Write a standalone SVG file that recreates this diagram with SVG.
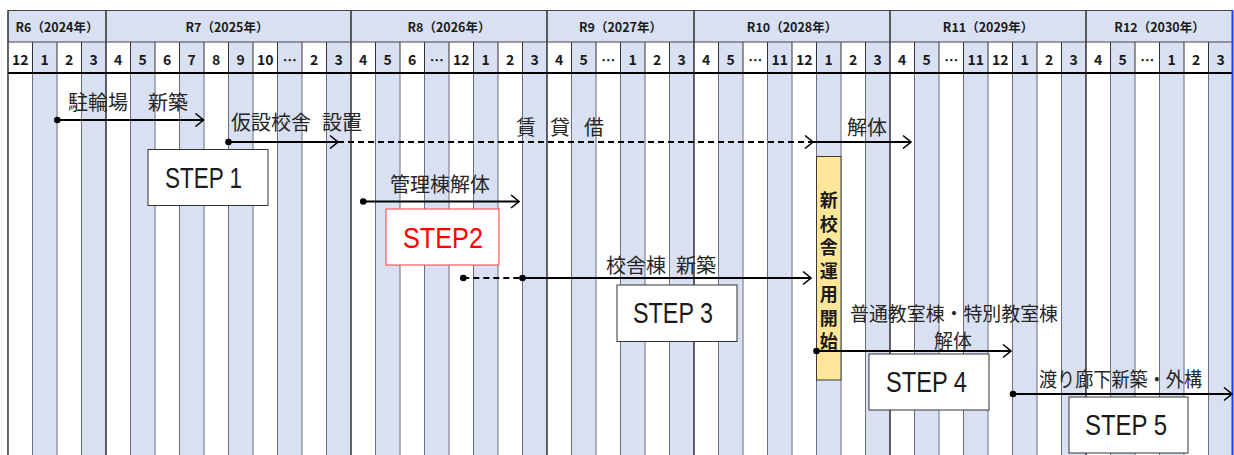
<svg xmlns="http://www.w3.org/2000/svg" width="1234" height="455" viewBox="0 0 1234 455">
<style>
.yr{font-family:"Noto Sans CJK JP","Noto Sans",sans-serif;font-weight:bold;font-size:12.5px;fill:#1a1a1a;text-anchor:middle}
.mo{font-family:"Noto Sans CJK JP","Noto Sans",sans-serif;font-weight:bold;font-size:14px;fill:#1a1a1a;text-anchor:middle}
.lbl{font-family:"Noto Sans CJK JP",sans-serif;font-size:20px;fill:#262626}
.step{font-family:"Liberation Sans",Arial,sans-serif;font-size:29px;fill:#1a1a1a}
.box{fill:#ffffff;stroke:#333333;stroke-width:1}
.bar{font-family:"Noto Sans CJK JP",sans-serif;font-weight:bold;font-size:18px;fill:#1a1a1a;text-anchor:middle}
.ln{fill:none;stroke:#000;stroke-width:1.8}
.dash{stroke-dasharray:6 4}
</style>
<defs>
<pattern id="cols" patternUnits="userSpaceOnUse" x="8" y="0" width="49" height="455">
<rect x="24.5" y="0" width="24.5" height="455" fill="#D9E0F2"/>
</pattern>
<marker id="arr" markerUnits="userSpaceOnUse" markerWidth="12" markerHeight="16" refX="9" refY="7" orient="auto" overflow="visible">
<path d="M1,0.5 L9,7 L1,13.5" fill="none" stroke="#000" stroke-width="1.6"/>
</marker>
<marker id="dot" markerUnits="userSpaceOnUse" markerWidth="8" markerHeight="8" refX="4" refY="4" overflow="visible">
<circle cx="4" cy="4" r="3.3" fill="#000"/>
</marker>
</defs>
<rect width="1234" height="455" fill="#ffffff"/>
<g id="grid">
<rect x="8" y="10" width="1225" height="32" fill="#D9E0F2"/>
<rect x="8" y="42" width="1225" height="413" fill="url(#cols)"/>
<path d="M32.5,73V455M57,73V455M81.5,73V455M130.5,73V455M155,73V455M179.5,73V455M204,73V455M228.5,73V455M253,73V455M277.5,73V455M302,73V455M326.5,73V455M375.5,73V455M400,73V455M424.5,73V455M449,73V455M473.5,73V455M498,73V455M522.5,73V455M571.5,73V455M596,73V455M620.5,73V455M645,73V455M669.5,73V455M718.5,73V455M743,73V455M767.5,73V455M792,73V455M816.5,73V455M841,73V455M865.5,73V455M914.5,73V455M939,73V455M963.5,73V455M988,73V455M1012.5,73V455M1037,73V455M1061.5,73V455M1110.5,73V455M1135,73V455M1159.5,73V455M1184,73V455M1208.5,73V455" stroke="#6a6f80" stroke-width="1" fill="none"/>
<path d="M32.5,42V73M57,42V73M81.5,42V73M130.5,42V73M155,42V73M179.5,42V73M204,42V73M228.5,42V73M253,42V73M277.5,42V73M302,42V73M326.5,42V73M375.5,42V73M400,42V73M424.5,42V73M449,42V73M473.5,42V73M498,42V73M522.5,42V73M571.5,42V73M596,42V73M620.5,42V73M645,42V73M669.5,42V73M718.5,42V73M743,42V73M767.5,42V73M792,42V73M816.5,42V73M841,42V73M865.5,42V73M914.5,42V73M939,42V73M963.5,42V73M988,42V73M1012.5,42V73M1037,42V73M1061.5,42V73M1110.5,42V73M1135,42V73M1159.5,42V73M1184,42V73M1208.5,42V73" stroke="#333" stroke-width="1" fill="none"/>
<path d="M8,10V455M106,10V455M351,10V455M547,10V455M694,10V455M890,10V455M1086,10V455" stroke="#000" stroke-width="1.2" fill="none"/>
<path d="M8,10.5H1233M8,42H1233" stroke="#444" stroke-width="1" fill="none"/>
<path d="M8,73H1233" stroke="#000" stroke-width="2.2" fill="none"/>
<path d="M1232.5,10V455" stroke="#1a3cff" stroke-width="2" fill="none"/>
<text class="yr" x="57" y="32">R6（2024年）</text>
<text class="yr" x="227" y="32">R7（2025年）</text>
<text class="yr" x="449" y="32">R8（2026年）</text>
<text class="yr" x="620.5" y="32">R9（2027年）</text>
<text class="yr" x="792" y="32">R10（2028年）</text>
<text class="yr" x="988" y="32">R11（2029年）</text>
<text class="yr" x="1159.5" y="32">R12（2030年）</text>
<g class="mo">
<text x="20.25" y="65">12</text><text x="44.75" y="65">1</text><text x="69.25" y="65">2</text><text x="93.75" y="65">3</text>
<text x="118.25" y="65">4</text><text x="142.75" y="65">5</text><text x="167.25" y="65">6</text><text x="191.75" y="65">7</text><text x="216.25" y="65">8</text><text x="240.75" y="65">9</text><text x="265.25" y="65">10</text><text x="289.75" y="65">…</text><text x="314.25" y="65">2</text><text x="338.75" y="65">3</text>
<text x="363.25" y="65">4</text><text x="387.75" y="65">5</text><text x="412.25" y="65">6</text><text x="436.75" y="65">…</text><text x="461.25" y="65">12</text><text x="485.75" y="65">1</text><text x="510.25" y="65">2</text><text x="534.75" y="65">3</text>
<text x="559.25" y="65">4</text><text x="583.75" y="65">5</text><text x="608.25" y="65">…</text><text x="632.75" y="65">1</text><text x="657.25" y="65">2</text><text x="681.75" y="65">3</text>
<text x="706.25" y="65">4</text><text x="730.75" y="65">5</text><text x="755.25" y="65">…</text><text x="779.75" y="65">11</text><text x="804.25" y="65">12</text><text x="828.75" y="65">1</text><text x="853.25" y="65">2</text><text x="877.75" y="65">3</text>
<text x="902.25" y="65">4</text><text x="926.75" y="65">5</text><text x="951.25" y="65">…</text><text x="975.75" y="65">11</text><text x="1000.25" y="65">12</text><text x="1024.75" y="65">1</text><text x="1049.25" y="65">2</text><text x="1073.75" y="65">3</text>
<text x="1098.25" y="65">4</text><text x="1122.75" y="65">5</text><text x="1147.25" y="65">…</text><text x="1171.75" y="65">1</text><text x="1196.25" y="65">2</text><text x="1220.75" y="65">3</text>
</g>
</g>
<g id="labels">
<text id="lbl-churinjo" class="lbl" x="68" y="110">駐輪場　新築</text>
<text id="lbl-kasetsu" class="lbl" x="231" y="130">仮設校舎 <tspan x="322">設置</tspan></text>
<text id="lbl-chintai" class="lbl" x="516" y="135" letter-spacing="14">賃貸借</text>
<text id="lbl-kaitai1" class="lbl" x="847" y="135">解体</text>
<text id="lbl-kanri" class="lbl" x="390" y="191.5">管理棟解体</text>
<text id="lbl-kousha" class="lbl" x="606" y="272.5">校舎棟 <tspan x="676">新築</tspan></text>
<text id="lbl-futsu" class="lbl" x="850" y="321" style="font-size:19.5px" textLength="208" lengthAdjust="spacingAndGlyphs">普通教室棟・特別教室棟</text>
<text id="lbl-kaitai2" class="lbl" x="934" y="348" style="font-size:19px">解体</text>
<text id="lbl-watari" class="lbl" x="1039" y="386.5" textLength="163" lengthAdjust="spacingAndGlyphs">渡り廊下新築・外構</text>
</g>
<g id="step1"><rect class="box" x="148" y="149.5" width="120" height="56"/><text class="step" x="165" y="188" textLength="77" lengthAdjust="spacingAndGlyphs">STEP 1</text></g>
<g id="step2"><rect x="386" y="209" width="113" height="56" fill="#fff" stroke="#ff3b3b" stroke-width="1"/><text class="step" x="403" y="248" textLength="80" lengthAdjust="spacingAndGlyphs" style="fill:#ff0000">STEP2</text></g>
<g id="step3"><rect class="box" x="617" y="285" width="120" height="56.5"/><text class="step" x="633" y="323" textLength="80" lengthAdjust="spacingAndGlyphs">STEP 3</text></g>
<g id="step4"><rect class="box" x="869" y="354" width="120" height="56"/><text class="step" x="886" y="392" textLength="81" lengthAdjust="spacingAndGlyphs">STEP 4</text></g>
<g id="step5"><rect class="box" x="1069" y="397" width="119" height="56"/><text class="step" x="1085" y="435" textLength="82" lengthAdjust="spacingAndGlyphs">STEP 5</text></g>
<g id="start-bar">
<rect x="816.5" y="156.5" width="24.5" height="223.5" fill="#FFE699" stroke="#3a3a3a" stroke-width="1"/>
<text class="bar"><tspan x="828.8" y="207">新</tspan><tspan x="828.8" y="230.5">校</tspan><tspan x="828.8" y="254">舎</tspan><tspan x="828.8" y="277.5">運</tspan><tspan x="828.8" y="301">用</tspan><tspan x="828.8" y="324.5">開</tspan><tspan x="828.8" y="348">始</tspan></text>
</g>
<g id="connectors">
<path class="ln" d="M57.3,120H203.5" marker-start="url(#dot)" marker-end="url(#arr)"/>
<path class="ln" d="M228.5,142H338" marker-start="url(#dot)" marker-end="url(#arr)"/>
<path class="ln dash" d="M338,142H813" marker-end="url(#arr)"/>
<path class="ln" d="M813,142H911" marker-end="url(#arr)"/>
<path class="ln" d="M363.3,201.5H519" marker-start="url(#dot)" marker-end="url(#arr)"/>
<path class="ln dash" d="M463.3,278H522.5" marker-start="url(#dot)" marker-end="url(#dot)"/>
<path class="ln" d="M522.5,278H811" marker-end="url(#arr)"/>
<path class="ln" d="M816.5,351H1011" marker-start="url(#dot)" marker-end="url(#arr)"/>
<path class="ln" d="M1013,394H1232" marker-start="url(#dot)" marker-end="url(#arr)"/>
</g>
</svg>
